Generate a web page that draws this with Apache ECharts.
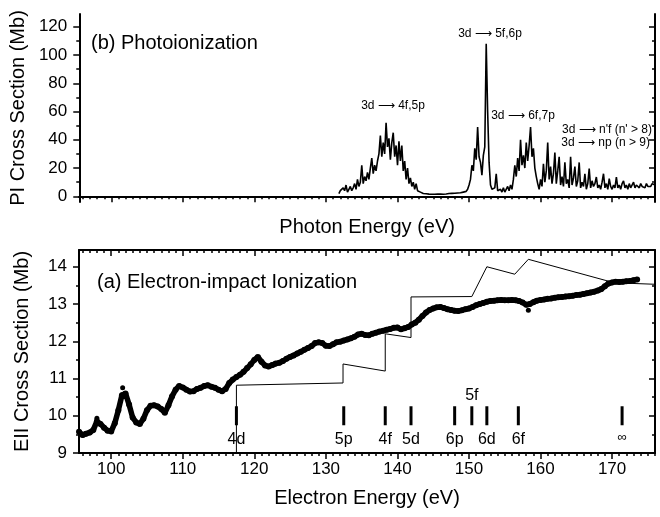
<!DOCTYPE html>
<html>
<head>
<meta charset="utf-8">
<script src="https://cdn.jsdelivr.net/npm/echarts@6/dist/echarts.min.js"></script>
<style>
  html, body { margin: 0; padding: 0; background: #fff; }
  #chart { width: 660px; height: 517px; }
</style>
</head>
<body>
<div id="chart"></div>
<script>
// tick labels
const xMajorTicks = [100, 110, 120, 130, 140, 150, 160, 170];
const piMajorTicks = [0, 20, 40, 60, 80, 100, 120];
const piMinorTicks = [10, 30, 50, 70, 90, 110];
const eiiMajorTicks = [9, 10, 11, 12, 13, 14];
const eiiMinorTicks = [9.5, 10.5, 11.5, 12.5, 13.5, 14];

// (a) EII measurement, sampled every 0.5 eV from 95.5 eV
const eiiStart = 95.5;
const eiiStep = 0.5;
const eiiValues = [
  9.57, 9.48, 9.52, 9.55, 9.62, 9.85, 9.78, 9.68, 9.6, 9.58,
  9.8, 10.15, 10.55, 10.6, 10.3, 9.95, 9.82, 9.78, 9.92, 10.15,
  10.27, 10.28, 10.25, 10.18, 10.08, 10.28, 10.52, 10.7, 10.8, 10.76,
  10.7, 10.65, 10.66, 10.72, 10.75, 10.8, 10.82, 10.78, 10.75, 10.7,
  10.66, 10.72, 10.88, 10.97, 11.04, 11.1, 11.18, 11.28, 11.38, 11.5,
  11.58, 11.45, 11.35, 11.32, 11.36, 11.4, 11.42, 11.47, 11.53, 11.58,
  11.62, 11.67, 11.72, 11.77, 11.82, 11.87, 11.95, 11.97, 11.95, 11.88,
  11.87, 11.92, 11.97, 11.99, 12.02, 12.05, 12.08, 12.12, 12.18, 12.2,
  12.17, 12.16, 12.2, 12.23, 12.26, 12.28, 12.31, 12.33, 12.36, 12.37,
  12.32, 12.35, 12.38, 12.45, 12.5, 12.58, 12.68, 12.77, 12.84, 12.88,
  12.91, 12.92, 12.89, 12.86, 12.84, 12.82, 12.81, 12.83, 12.86, 12.88,
  12.92, 12.97, 13.0, 13.03, 13.06, 13.08, 13.09, 13.1, 13.11, 13.1,
  13.1, 13.11, 13.1, 13.08, 13.04, 12.98, 13.0, 13.05, 13.09, 13.11,
  13.12, 13.14, 13.15, 13.17, 13.18, 13.19, 13.2, 13.21, 13.22, 13.24,
  13.25, 13.27, 13.29, 13.31, 13.33, 13.36, 13.4, 13.48, 13.55, 13.58,
  13.6, 13.59, 13.6, 13.61, 13.62, 13.64, 13.66
];
const eiiOutliers = [[98.0, 9.93], [101.6, 10.75], [158.3, 12.83]];

// (a) theory, step-like curve
const theoryPoints = [
  [117.5, 9], [117.5, 10.82], [132.4, 10.88], [132.4, 11.39], [138.3, 11.2],
  [138.3, 12.2], [141.9, 12.1], [141.9, 13.19], [150.4, 13.2], [152.5, 14.0],
  [156.4, 13.8], [158.3, 14.2], [170.3, 13.57], [176, 13.53]
];

// (a) level markers
const levelNames = ['4d', '5p', '4f', '5d', '6p', '5f', '6d', '6f', '∞'];
const levelEnergies = [117.5, 132.5, 138.3, 141.9, 148.0, 150.4, 152.5, 156.9, 171.4];
const levelY = 10.0;

// (b) PI cross section, sampled every 0.2 eV from 131.8 eV
const piStart = 131.8;
const piStep = 0.2;
const piValues = [
  2, 4, 3, 6, 4, 8, 3, 5, 7, 4,
  6, 9, 5, 12, 7, 10, 22, 9, 14, 11,
  17, 12, 20, 27, 16, 22, 18, 25, 30, 43,
  28, 38, 30, 52, 35, 41, 26, 38, 45, 28,
  36, 22, 39, 25, 36, 18, 25, 12, 20, 9,
  13, 7, 10, 5, 9, 4, 5, 3, 2.5, 2,
  2, 1.8, 1.5, 1.6, 1.4, 1.5, 1.3, 1.5, 1.4, 1.6,
  1.5, 1.6, 1.7, 1.5, 1.8, 1.7, 1.9, 2, 1.8, 2.1,
  2, 2.2, 2.1, 2.4, 2.3, 2.5, 2.8, 3, 4, 3.5,
  5, 8, 12, 22, 18, 34, 26, 49, 28, 24,
  15, 29, 35, 108, 60, 24, 8, 5, 4, 6,
  16, 4, 3, 5, 3, 6, 3, 4, 7, 4,
  8, 5, 12, 22, 14, 27, 18, 40, 22, 29,
  20, 38, 25, 36, 49, 28, 34, 20, 14, 9,
  5, 12, 7, 23, 10, 18, 38, 12, 21, 9,
  16, 31, 9, 18, 28, 8, 14, 7, 24, 9,
  12, 6, 28, 8, 13, 21, 7, 11, 24, 6,
  10, 7, 16, 5, 9, 19.6, 6, 11, 7, 9,
  13.7, 6, 8, 5, 10, 16, 6, 9, 5, 12.5,
  7, 5, 8, 6, 13.7, 6, 8, 5, 9, 11,
  6, 8, 5, 9, 6, 7, 10, 6, 8, 7,
  6, 9, 7, 8, 6, 9, 7, 8, 7, 9,
  8, 8
];

const font = 'Liberation Sans, Arial, sans-serif';
const xMinorTicks = [];
for (let e = 96; e <= 176; e++) {
  if (e % 10 !== 0) xMinorTicks.push(e);
}

function xAxes(gridIndex, showLabels, name, nameGap) {
  const base = { type: 'value', gridIndex: gridIndex, min: 95.5, max: 176, splitLine: { show: false } };
  const line = { show: true, lineStyle: { color: '#000', width: 2 } };
  return [
    Object.assign({}, base, {
      position: 'bottom', axisLine: line,
      axisTick: { show: true, length: 6, customValues: xMajorTicks, lineStyle: { color: '#000', width: 1.5 } },
      axisLabel: { show: showLabels, customValues: xMajorTicks, color: '#000', fontSize: 17, fontFamily: font, margin: 8 },
      name: name, nameLocation: 'middle', nameGap: nameGap,
      nameTextStyle: { color: '#000', fontSize: 20, fontFamily: font }
    }),
    Object.assign({}, base, {
      position: 'bottom', axisLine: { show: false },
      axisTick: { show: true, length: 3, customValues: xMinorTicks, lineStyle: { color: '#000', width: 1.5 } },
      axisLabel: { show: false }
    }),
    Object.assign({}, base, {
      position: 'top', axisLine: line,
      axisTick: { show: true, inside: true, length: 6, customValues: xMajorTicks, lineStyle: { color: '#000', width: 1.5 } },
      axisLabel: { show: false }
    }),
    Object.assign({}, base, {
      position: 'top', axisLine: { show: false },
      axisTick: { show: true, inside: true, length: 3, customValues: xMinorTicks, lineStyle: { color: '#000', width: 1.5 } },
      axisLabel: { show: false }
    })
  ];
}

function yAxes(gridIndex, min, max, majors, minors, name) {
  const base = { type: 'value', gridIndex: gridIndex, min: min, max: max, splitLine: { show: false } };
  const line = { show: true, lineStyle: { color: '#000', width: 2 } };
  return [
    Object.assign({}, base, {
      position: 'left', axisLine: line,
      axisTick: { show: true, length: 6, customValues: majors, lineStyle: { color: '#000', width: 1.5 } },
      axisLabel: { show: true, customValues: majors, color: '#000', fontSize: 17, fontFamily: font, margin: 12 },
      name: name, nameLocation: 'middle', nameGap: 47,
      nameTextStyle: { color: '#000', fontSize: 20, fontFamily: font }
    }),
    Object.assign({}, base, {
      position: 'left', axisLine: { show: false },
      axisTick: { show: true, length: 3, customValues: minors, lineStyle: { color: '#000', width: 1.5 } },
      axisLabel: { show: false }
    }),
    Object.assign({}, base, {
      position: 'right', axisLine: line,
      axisTick: { show: true, inside: true, length: 6, customValues: majors, lineStyle: { color: '#000', width: 1.5 } },
      axisLabel: { show: false }
    }),
    Object.assign({}, base, {
      position: 'right', axisLine: { show: false },
      axisTick: { show: true, inside: true, length: 3, customValues: minors, lineStyle: { color: '#000', width: 1.5 } },
      axisLabel: { show: false }
    })
  ];
}

const eiiData = eiiValues.map((v, i) => [eiiStart + i * eiiStep, v]);
const piData = piValues.map((v, i) => [Math.round((piStart + i * piStep) * 10) / 10, v]);
const levelData = levelNames.map((n, i) => ({
  name: n,
  value: [levelEnergies[i], levelY],
  label: {
    position: n === '5f' ? 'top' : 'bottom',
    distance: n === '5f' ? 3 : 6,
    fontSize: n === '∞' ? 13 : 16
  }
}));

function note(text, x, y, align, size) {
  return {
    type: 'text', x: x, y: y,
    style: { text: text, fill: '#000', font: (size || 12) + 'px ' + font, align: align || 'center', verticalAlign: 'middle' }
  };
}

const chart = echarts.init(document.getElementById('chart'));
chart.setOption({
  animation: false,
  backgroundColor: '#fff',
  grid: [
    { left: 79, right: 5, top: 14, height: 188 },
    { left: 79, right: 5, top: 250, height: 203 }
  ],
  xAxis: xAxes(0, false, 'Photon Energy (eV)', 15).concat(xAxes(1, true, 'Electron Energy (eV)', 35)),
  yAxis: yAxes(0, -4, 129, piMajorTicks, piMinorTicks, 'PI Cross Section (Mb)')
    .concat(yAxes(1, 9, 14.45, eiiMajorTicks, eiiMinorTicks, 'EII Cross Section (Mb)')),
  series: [
    {
      type: 'line', xAxisIndex: 0, yAxisIndex: 0, data: piData,
      showSymbol: false, lineStyle: { color: '#000', width: 1.6 }, silent: true
    },
    {
      type: 'line', xAxisIndex: 4, yAxisIndex: 4, data: theoryPoints,
      showSymbol: false, lineStyle: { color: '#000', width: 1 }, silent: true
    },
    {
      type: 'line', xAxisIndex: 4, yAxisIndex: 4, data: eiiData,
      symbol: 'circle', symbolSize: 6, showSymbol: true, showAllSymbol: true,
      itemStyle: { color: '#000', opacity: 1 }, lineStyle: { color: '#000', width: 5.5 }, silent: true
    },
    {
      type: 'scatter', xAxisIndex: 4, yAxisIndex: 4, data: eiiOutliers,
      symbolSize: 5, itemStyle: { color: '#000', opacity: 1 }, silent: true
    },
    {
      type: 'scatter', xAxisIndex: 4, yAxisIndex: 4, data: levelData,
      symbol: 'rect', symbolSize: [3, 19], itemStyle: { color: '#000', opacity: 1 }, silent: true,
      label: { show: true, formatter: '{b}', color: '#000', fontFamily: font }
    }
  ],
  graphic: [
    note('(b) Photoionization', 91, 43, 'left', 20),
    note('(a) Electron-impact Ionization', 97, 282, 'left', 20),
    note('3d ⟶ 5f,6p', 490, 34),
    note('3d ⟶ 4f,5p', 393, 106),
    note('3d ⟶ 6f,7p', 523, 116),
    note("3d ⟶ n'f (n' > 8)", 652, 130, 'right'),
    note('3d ⟶ np (n > 9)', 650, 143, 'right')
  ]
});
</script>
</body>
</html>
